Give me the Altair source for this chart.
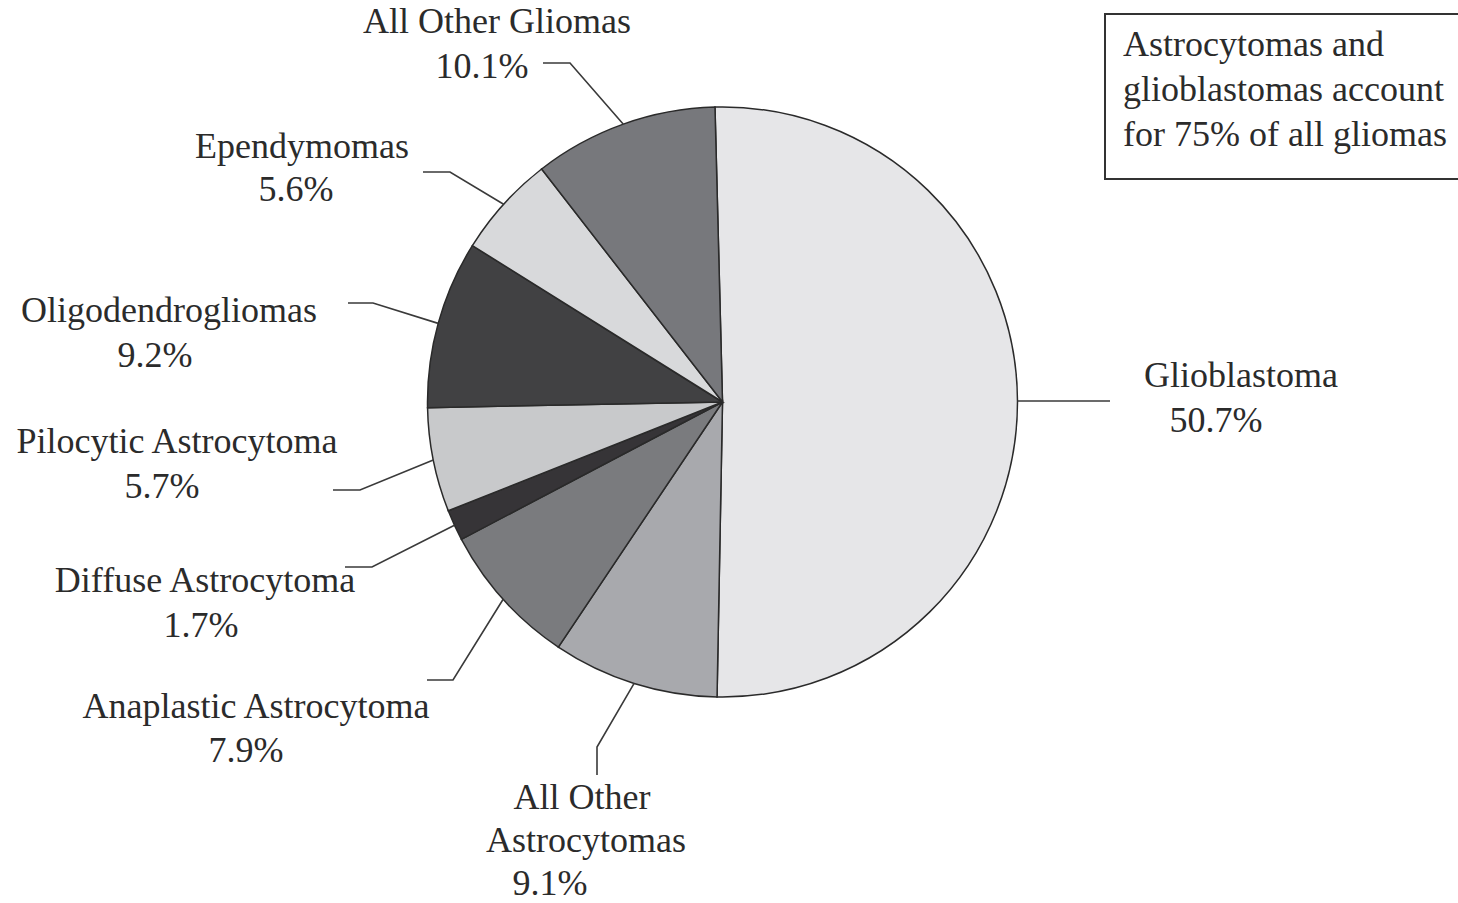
import math
import altair as alt
import pandas as pd

# Share of all gliomas by histology, clockwise from 12 o'clock
categories = [
    "Glioblastoma",
    "All Other Astrocytomas",
    "Anaplastic Astrocytoma",
    "Diffuse Astrocytoma",
    "Pilocytic Astrocytoma",
    "Oligodendrogliomas",
    "Ependymomas",
    "All Other Gliomas",
]
values = [50.7, 9.1, 7.9, 1.7, 5.7, 9.2, 5.6, 10.1]

# Label lines (category text broken where it wraps)
label_lines = {
    "All Other Astrocytomas": ["All Other", "Astrocytomas"],
}
note_lines = ["Astrocytomas and", "glioblastomas account", "for 75% of all gliomas"]

# --- styling / layout -------------------------------------------------------
W, H = 1458, 903
CX, CY, R = 722.5, 402.0, 295.0
START = -0.0255  # radians, first wedge starts just left of 12 o'clock
FONT = "Liberation Serif"
FONT_SIZE = 36
TEXT_COLOR = "#2b2b2b"
LINE_COLOR = "#3a3a3a"

fills = ["#e6e6e8", "#a8a9ad", "#7a7b7e", "#363437",
         "#c8c9cb", "#414143", "#d8d9db", "#77787c"]

# Per-line text anchors (x centre, baseline y)
label_pos = {
    "Glioblastoma": [(1241, 387), (1216, 432)],
    "All Other Astrocytomas": [(582, 809), (586, 852), (550, 895)],
    "Anaplastic Astrocytoma": [(256, 718), (246, 762)],
    "Diffuse Astrocytoma": [(205, 592), (201, 637)],
    "Pilocytic Astrocytoma": [(177, 453), (162, 498)],
    "Oligodendrogliomas": [(169, 322), (155, 367)],
    "Ependymomas": [(302, 158), (296, 201)],
    "All Other Gliomas": [(497, 33), (482, 78)],
}
# Leader line elbow and end points
leader_pts = {
    "Glioblastoma": [(1110, 401), (1110, 401)],
    "All Other Astrocytomas": [(597, 747), (597, 775)],
    "Anaplastic Astrocytoma": [(453, 680), (427, 680)],
    "Diffuse Astrocytoma": [(372, 567), (345, 567)],
    "Pilocytic Astrocytoma": [(360, 490), (333, 490)],
    "Oligodendrogliomas": [(373, 303), (348, 303)],
    "Ependymomas": [(450, 172), (423, 172)],
    "All Other Gliomas": [(570, 63), (543, 63)],
}
note_box = dict(x=1105, x2=1475, y=14, y2=179)
note_x, note_y0, note_dy = 1123, 56, 45

# --- tables -------------------------------------------------------------------
pie_df = pd.DataFrame({"category": categories, "value": values,
                       "order": list(range(len(categories)))})

total = sum(values)
line_rows, text_rows = [], []
cum = 0.0
for cat, v in zip(categories, values):
    mid = START + 2 * math.pi * (cum + v / 2) / total
    cum += v
    sx = CX + R * math.sin(mid)
    sy = CY - R * math.cos(mid)
    pts = [(sx, sy)] + leader_pts[cat]
    for i, (px, py) in enumerate(pts):
        line_rows.append({"category": cat, "seq": i, "x": px, "y": py})
    lines = label_lines.get(cat, [cat]) + [f"{v:.1f}%"]
    for (tx, ty), t in zip(label_pos[cat], lines):
        text_rows.append({"x": tx, "y": ty, "text": t})

line_df = pd.DataFrame(line_rows)
text_df = pd.DataFrame(text_rows)
note_df = pd.DataFrame({"x": [note_x] * len(note_lines),
                        "y": [note_y0 + i * note_dy for i in range(len(note_lines))],
                        "text": note_lines})
box_df = pd.DataFrame([note_box])

# Pixel-space scales for annotations
xs = alt.Scale(domain=[0, W], range=[0, W], nice=False, zero=False)
ys = alt.Scale(domain=[0, H], range=[0, H], nice=False, zero=False)

pie = alt.Chart(pie_df).mark_arc(
    outerRadius=R, stroke="#2a2a2a", strokeWidth=1.5
).encode(
    theta=alt.Theta("value:Q", stack=True,
                    scale=alt.Scale(range=[2 * math.pi + START, 4 * math.pi + START])),
    order=alt.Order("order:Q"),
    color=alt.Color("category:N", scale=alt.Scale(domain=categories, range=fills),
                    legend=None),
    x=alt.value(CX),
    y=alt.value(CY),
)

leaders = alt.Chart(line_df).mark_line(
    color=LINE_COLOR, strokeWidth=1.6
).encode(
    x=alt.X("x:Q", scale=xs, axis=None),
    y=alt.Y("y:Q", scale=ys, axis=None),
    detail="category:N",
    order="seq:Q",
)

labels = alt.Chart(text_df).mark_text(
    font=FONT, fontSize=FONT_SIZE, color=TEXT_COLOR,
    align="center", baseline="alphabetic"
).encode(
    x=alt.X("x:Q", scale=xs, axis=None),
    y=alt.Y("y:Q", scale=ys, axis=None),
    text="text:N",
)

box = alt.Chart(box_df).mark_rect(
    fill="white", stroke="#333333", strokeWidth=2
).encode(
    x=alt.X("x:Q", scale=xs, axis=None), x2="x2:Q",
    y=alt.Y("y:Q", scale=ys, axis=None), y2="y2:Q",
)

note = alt.Chart(note_df).mark_text(
    font=FONT, fontSize=FONT_SIZE, color=TEXT_COLOR,
    align="left", baseline="alphabetic"
).encode(
    x=alt.X("x:Q", scale=xs, axis=None),
    y=alt.Y("y:Q", scale=ys, axis=None),
    text="text:N",
)

chart = alt.layer(pie, leaders, labels, box, note).properties(
    width=W, height=H, padding=0, autosize=alt.AutoSizeParams(type="none"),
    background="white",
).configure_view(stroke=None)

chart.save("out.html", embed_options={"renderer": "svg", "actions": False})
